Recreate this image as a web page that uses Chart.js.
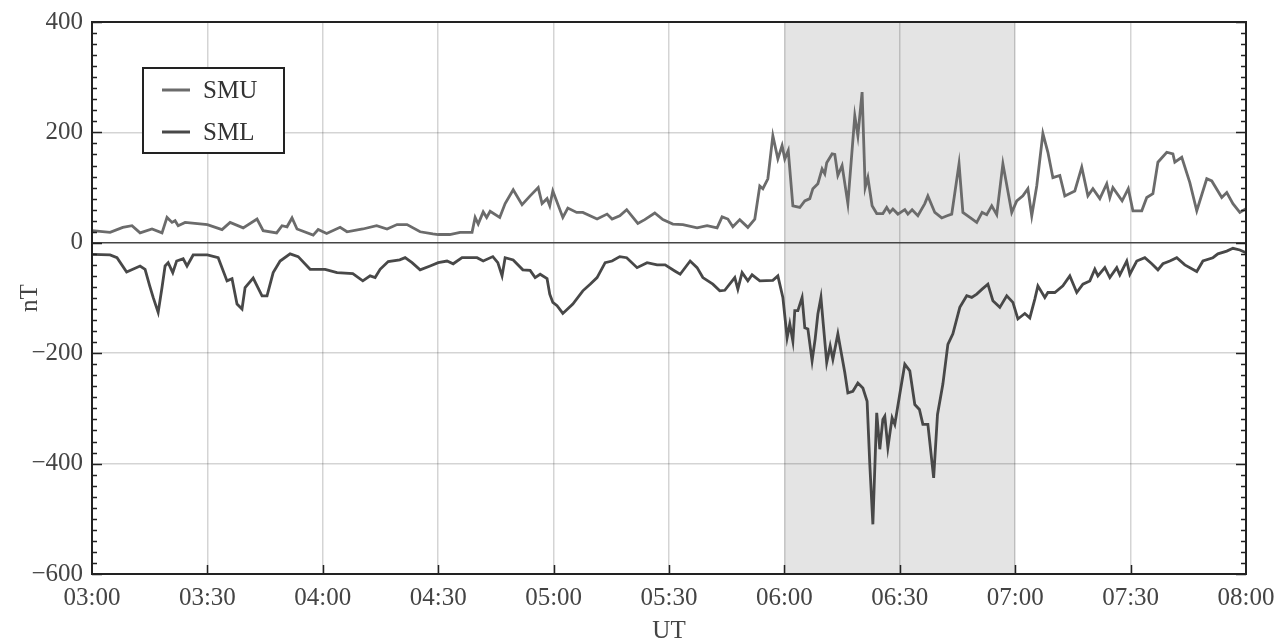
<!DOCTYPE html>
<html>
<head>
<meta charset="utf-8">
<script src="https://cdn.jsdelivr.net/npm/chart.js@4"></script>
<style>
  body { margin: 0; background: #fff; }
  #wrap { width: 1278px; height: 643px; }
</style>
</head>
<body>
<div id="wrap"><canvas id="smChart"></canvas></div>
<script>
// minutes after 03:00 UT
const smuTime = [0, 4.7, 8, 10.4, 12.5, 15.6, 18.2, 19.5, 20.8, 21.6, 22.4, 24.2, 30, 33.8, 35.9, 39.3, 42.9, 44.5, 48, 49.4,
  50.7, 52, 53.3, 57.5, 58.8, 61, 64.5, 66.3, 70.4, 74, 76.7, 79.3, 81.9, 85.3, 88.6, 90, 93, 95.7, 98.8, 99.6,
  100.4, 101.7, 102.6, 103.5, 106, 107.4, 109.5, 111.8, 113.9, 116, 117, 118.3, 119, 119.8, 122.4, 123.7, 126, 127.6, 131.3, 133.9,
  135.2, 137.2, 139, 141.9, 143.7, 146.3, 148.4, 151, 153.6, 157.3, 159.9, 162.5, 163.8, 165.3, 166.6, 168.4, 170.5, 172.3, 173.6, 174.4,
  175.7, 177, 178.3, 179.4, 180.1, 181, 182.2, 184, 185.3, 186.6, 187.4, 188.7, 189.8, 190.5, 191, 192.4, 193.1, 193.9, 195, 196.5,
  198.3, 199.1, 200.2, 201, 201.7, 202.8, 204, 205.6, 206.6, 207.4, 208.2, 209.5, 211.3, 212.1, 213.2, 214.7, 216.5, 217.3, 219.1, 220.9,
  222.3, 223.5, 225.4, 226.4, 228.2, 230, 231.4, 232.6, 233.9, 235.2, 236.8, 239.1, 240.4, 242, 243.3, 244.3, 245.6, 247.2, 248.5, 249.8,
  251.6, 252.9, 255.5, 257.3, 258.9, 260.2, 262, 263.8, 264.6, 265.4, 267.8, 269.4, 270.6, 272.9, 274.2, 275.8, 277.1, 279.4, 281, 281.5,
  283.3, 285.4, 287.2, 289.8, 291.1, 293.7, 295, 296.6, 298.4, 300];
const smuValues = [22, 19, 28, 31, 18, 25, 18, 46, 37, 40, 31, 37, 33, 24, 37, 27, 43, 22, 18, 31,
  29, 45, 25, 14, 24, 17, 28, 20, 25, 31, 25, 33, 33, 20, 16, 15, 15, 19, 19, 46,
  34, 56, 46, 57, 46, 71, 96, 69, 85, 100, 71, 80, 67, 94, 46, 63, 55, 55, 43, 52,
  43, 49, 60, 35, 42, 54, 42, 34, 33, 27, 31, 27, 47, 43, 29, 42, 28, 43, 103, 98,
  116, 194, 152, 176, 152, 167, 67, 64, 76, 80, 98, 107, 134, 125, 145, 161, 160, 122, 140, 71,
  230, 194, 273, 100, 118, 67, 53, 53, 64, 55, 61, 52, 60, 52, 60, 49, 71, 85, 55, 45,
  49, 52, 143, 55, 46, 37, 55, 51, 67, 51, 143, 55, 76, 85, 98, 49, 103, 198, 164, 118,
  122, 85, 94, 137, 85, 98, 80, 107, 82, 100, 76, 98, 58, 58, 82, 89, 146, 164, 161, 146,
  155, 109, 58, 116, 112, 82, 91, 71, 55, 62];

const smlTime = [0, 4.7, 6.5, 9, 12.5, 13.8, 15, 15.9, 17.2, 18.2, 19, 19.8, 21, 22, 23.7, 24.7, 26.3, 30, 32.8, 35.1,
  36.4, 37.7, 39, 39.8, 41.9, 44.2, 45.5, 47.1, 48.9, 51.5, 53.6, 56.7, 60.6, 63.7, 67.8, 70.4, 72.3, 73.6, 74.9, 77,
  80, 81.4, 83.2, 85.3, 87.9, 90, 92.3, 93.9, 96.2, 100.1, 101.7, 104.2, 105.5, 106.6, 107.4, 109.5, 112, 113.9, 115.2, 116.5,
  118.3, 119, 119.8, 120.9, 122.4, 125, 127.6, 129.5, 131.3, 133.4, 135.2, 137.2, 139, 141.7, 144.3, 146.9, 149, 151.5, 152.9, 155.5,
  157.3, 158.8, 161.4, 163.2, 164.5, 167.1, 167.9, 169, 170.5, 171.6, 173.6, 177, 178.3, 179.6, 180.7, 181.4, 182.2, 182.7, 183.5, 184.6,
  185.3, 186.1, 187.2, 188, 188.7, 189.5, 190.1, 191, 191.9, 192.6, 193.9, 195, 195.7, 196.5, 197.8, 199.1, 200.4, 201.5, 202.2, 203,
  204, 204.8, 205.6, 206.1, 206.9, 208, 208.7, 210, 211.3, 212.6, 213.9, 215.1, 216, 217.3, 218.8, 219.8, 221.2, 222.5, 223.8, 225.6,
  227.4, 228.7, 230, 231.4, 232.9, 234.2, 236, 237.8, 239.4, 240.7, 242.5, 243.8, 245.1, 245.9, 247.7, 248.5, 250.3, 252.4, 254.2, 256,
  257.6, 259.4, 260.7, 261.5, 263.3, 264.6, 266.4, 267.2, 269, 269.8, 271.6, 273.7, 275.5, 277.1, 278.4, 280.2, 282, 284.1, 287.2, 288.8,
  291.4, 292.7, 295, 296.6, 298.4, 300];
const smlValues = [-21, -22, -27, -53, -42, -48, -78, -99, -126, -81, -42, -36, -54, -33, -29, -42, -22, -22, -27, -69,
  -65, -111, -120, -81, -64, -96, -96, -54, -33, -20, -25, -48, -48, -54, -56, -69, -60, -63, -48, -34,
  -31, -27, -36, -49, -42, -36, -33, -38, -27, -27, -33, -25, -36, -60, -27, -31, -49, -50, -63, -57,
  -65, -93, -108, -114, -128, -111, -87, -75, -63, -36, -33, -25, -27, -45, -36, -40, -40, -51, -57, -33,
  -45, -63, -75, -87, -86, -63, -84, -54, -69, -58, -69, -68, -60, -99, -172, -147, -178, -123, -123, -99,
  -154, -156, -214, -174, -129, -99, -147, -217, -187, -211, -165, -208, -235, -272, -269, -254, -263, -287, -401, -510,
  -308, -374, -320, -314, -371, -317, -329, -274, -220, -232, -293, -302, -329, -329, -426, -311, -256, -184, -165, -117,
  -96, -99, -93, -84, -75, -105, -117, -96, -108, -138, -128, -136, -102, -78, -99, -90, -90, -78, -60, -90,
  -75, -69, -48, -60, -45, -63, -45, -58, -33, -57, -33, -27, -38, -49, -38, -33, -27, -40, -52, -33,
  -27, -20, -15, -10, -13, -18];

const seriesLabels = ['SMU', 'SML'];
const shadeRange = [180, 240]; // 06:00 - 07:00 UT
const yTicks = [-600, -400, -200, 0, 200, 400];

const serif = '"Liberation Serif", "DejaVu Serif", serif';

function fmtUT(v) {
    const h = 3 + Math.floor(v / 60);
    const m = v % 60;
    return String(h).padStart(2, '0') + ':' + String(m).padStart(2, '0');
}

const shadePlugin = {
    id: 'shadePlugin',
    beforeDraw(chart) {
        const { ctx, chartArea: { top, bottom }, scales: { x } } = chart;
        const x0 = x.getPixelForValue(shadeRange[0]);
        const x1 = x.getPixelForValue(shadeRange[1]);
        ctx.save();
        ctx.fillStyle = '#e4e4e4';
        ctx.fillRect(x0, top, x1 - x0, bottom - top);
        ctx.restore();
    }
};

const framePlugin = {
    id: 'framePlugin',
    afterDraw(chart) {
        const { ctx, chartArea: { top, bottom, left, right }, scales: { x, y } } = chart;
        ctx.save();
        ctx.strokeStyle = '#222';
        ctx.lineWidth = 1.5;
        ctx.beginPath();
        // y ticks inward, both sides
        for (let v = -600; v <= 400; v += 20) {
            const py = Math.round(y.getPixelForValue(v)) + 0.5;
            const len = v % 200 === 0 ? 10 : 5;
            ctx.moveTo(left, py); ctx.lineTo(left + len, py);
            ctx.moveTo(right, py); ctx.lineTo(right - len, py);
        }
        // x ticks inward at bottom
        for (let v = 30; v < 300; v += 30) {
            const px = Math.round(x.getPixelForValue(v)) + 0.5;
            ctx.moveTo(px, bottom); ctx.lineTo(px, bottom - 9);
        }
        ctx.stroke();
        ctx.lineWidth = 2;
        ctx.strokeRect(left, top, right - left, bottom - top);

        // legend box
        const bx = 143, by = 68, bw = 141, bh = 85;
        ctx.fillStyle = '#fff';
        ctx.fillRect(bx, by, bw, bh);
        ctx.strokeStyle = '#222';
        ctx.lineWidth = 2;
        ctx.strokeRect(bx, by, bw, bh);
        ctx.font = '25px ' + serif;
        ctx.textBaseline = 'middle';
        ctx.fillStyle = '#333';
        chart.data.datasets.forEach((ds, i) => {
            const ly = by + 22 + i * 42;
            ctx.strokeStyle = ds.borderColor;
            ctx.lineWidth = 3;
            ctx.beginPath();
            ctx.moveTo(bx + 19, ly); ctx.lineTo(bx + 47, ly);
            ctx.stroke();
            ctx.fillText(ds.label, bx + 60, ly + 1);
        });
        ctx.restore();
    }
};

const ctx = document.getElementById('smChart');

new Chart(ctx, {
    type: 'line',
    plugins: [shadePlugin, framePlugin],
    data: {
        datasets: [
            {
                label: seriesLabels[0],
                data: smuTime.map((t, i) => ({ x: t, y: smuValues[i] })),
                borderColor: '#6b6b6b',
                borderWidth: 2.8,
                pointRadius: 0,
                tension: 0,
            },
            {
                label: seriesLabels[1],
                data: smlTime.map((t, i) => ({ x: t, y: smlValues[i] })),
                borderColor: '#484848',
                borderWidth: 2.8,
                pointRadius: 0,
                tension: 0,
            }
        ]
    },
    options: {
        responsive: true,
        maintainAspectRatio: false,
        animation: false,
        layout: { padding: { top: 22, right: 32, left: 0, bottom: 0 } },
        plugins: {
            legend: { display: false },
            tooltip: { enabled: false },
        },
        scales: {
            x: {
                type: 'linear',
                min: 0,
                max: 300,
                afterFit: (scale) => {
                    scale.height = 69;
                    scale.paddingLeft = 0;
                    scale.paddingRight = 0;
                },
                ticks: {
                    stepSize: 30,
                    padding: 9,
                    maxRotation: 0,
                    color: '#444',
                    font: { family: serif, size: 25 },
                    callback: (v) => fmtUT(v),
                },
                grid: {
                    drawTicks: false,
                    color: 'rgba(0,0,0,0.17)',
                    lineWidth: 1.5,
                },
                border: { display: false },
                title: {
                    display: true,
                    text: 'UT',
                    color: '#444',
                    font: { family: serif, size: 25 },
                    padding: { top: 0, bottom: -3 },
                },
            },
            y: {
                min: -600,
                max: 400,
                afterFit: (scale) => {
                    scale.width = 92;
                    scale.paddingTop = 0;
                    scale.paddingBottom = 0;
                },
                afterBuildTicks: (scale) => { scale.ticks = yTicks.map(v => ({ value: v })); },
                ticks: {
                    padding: 9,
                    color: '#444',
                    font: { family: serif, size: 25 },
                    callback: (v) => v < 0 ? '\u2212' + Math.abs(v) : String(v),
                },
                grid: {
                    drawTicks: false,
                    color: (c) => c.tick && c.tick.value === 0 ? '#444' : 'rgba(0,0,0,0.17)',
                    lineWidth: 1.5,
                },
                border: { display: false },
                title: {
                    display: true,
                    text: 'nT',
                    color: '#444',
                    font: { family: serif, size: 25 },
                    padding: { top: 15, bottom: 0 },
                },
            },
        },
    },
});
</script>
</body>
</html>
